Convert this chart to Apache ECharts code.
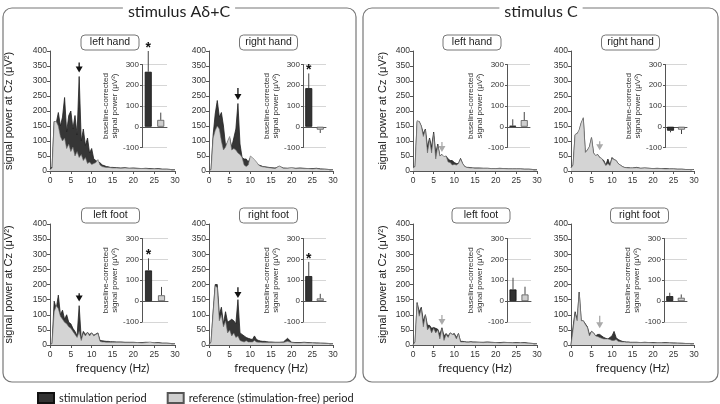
<!DOCTYPE html>
<html><head><meta charset="utf-8">
<script src="https://cdn.jsdelivr.net/npm/echarts@6/dist/echarts.min.js"></script>
<style>html,body{margin:0;padding:0;background:#fff}#c{width:720px;height:404px}</style>
</head><body><div id="c"></div><script>
// ---------- data ----------
const groupTitles = ['stimulus A\u03b4+C', 'stimulus C'];
const panelNames = ['left hand','right hand','left foot','right foot','left hand','right hand','left foot','right foot'];
const seriesNames = ['stimulation period', 'reference (stimulation-free) period'];
const freq = [0,0.5,1,1.5,2,2.5,3,3.5,4,4.5,5,5.5,6,6.5,7,7.5,8,8.5,9,9.5,10,10.5,11,11.5,12,12.5,13,13.5,14,14.5,15,
              16,17,18,19,20,21,22,23,24,25,26,27,28,29,30];
const freqTicks = [0,5,10,15,20,25,30];
const powerTicks = [0,50,100,150,200,250,300,350,400];
const barTicks = [-100,0,100,200,300];

// stimulus Ad+C
const stimAC_LH = [5,15,165,160,195,150,180,245,130,185,200,140,185,120,315,100,140,85,110,60,75,40,35,30,28,20,18,15,14,12,12, 11,10,11,9,10,9,8,9,8,7,8,6,6,5,4];
const refAC_LH  = [5,10,165,165,150,115,100,110,75,90,65,80,50,65,45,55,35,45,25,30,22,25,28,38,20,15,13,12,12,11,10, 10,9,10,9,9,8,8,8,7,7,7,6,6,5,4];
const stimAC_RH = [0,5,120,190,235,180,195,150,85,95,110,80,110,140,225,90,45,40,40,30,45,40,35,25,20,18,15,14,13,12,11, 10,15,10,9,10,9,10,9,8,8,9,7,6,5,4];
const refAC_RH  = [0,5,110,135,150,140,100,70,80,100,115,70,75,70,60,55,45,20,15,20,50,45,38,30,20,16,14,13,12,11,10, 8,17,9,9,11,8,9,8,8,7,8,6,6,5,4];
const stimAC_LF = [0,5,145,120,165,100,115,85,100,75,70,55,45,30,130,20,45,35,42,35,40,32,36,40,15,14,13,12,12,11,11, 10,10,9,9,9,8,8,9,8,7,8,6,6,5,4];
const refAC_LF  = [0,5,110,130,120,95,85,75,70,60,55,45,35,25,45,15,40,30,42,30,40,30,35,38,12,10,10,9,9,9,9, 9,9,8,8,8,8,7,8,10,7,7,6,6,5,4];
const stimAC_RF = [0,10,110,200,200,100,125,70,110,75,80,85,80,70,150,40,35,30,25,22,20,18,30,18,15,13,12,12,11,10,10, 9,9,10,22,9,8,8,9,8,7,7,6,6,5,4];
const refAC_RF  = [0,10,105,195,190,80,100,60,80,40,50,30,40,25,30,15,12,10,14,10,10,10,15,10,9,9,8,8,8,8,8, 8,8,8,12,8,7,7,8,7,7,6,6,5,5,4];
// stimulus C
const stimC_LH = [10,15,165,165,150,125,140,80,110,80,130,60,90,50,55,45,50,40,35,35,28,25,25,42,25,15,12,12,11,10,10, 10,9,9,8,8,9,8,7,7,7,7,6,6,5,4];
const refC_LH  = [10,15,168,165,150,115,138,60,105,60,125,40,85,50,55,48,50,30,28,20,22,20,25,40,25,15,12,11,10,10,9, 9,9,9,8,8,8,8,7,7,7,7,6,6,5,4];
const stimC_RH = [10,20,120,125,135,160,175,60,70,80,110,60,50,55,45,40,35,20,40,20,45,38,35,25,20,15,12,11,11,10,10, 12,9,10,9,8,9,8,8,7,7,6,6,5,5,5];
const refC_RH  = [10,20,122,125,138,162,178,62,70,82,113,60,52,55,45,42,30,18,25,18,42,38,35,25,20,15,12,11,10,10,10, 11,9,10,9,8,8,8,7,7,7,6,6,5,5,5];
const stimC_LF = [0,10,140,110,125,80,100,65,65,55,58,55,52,35,57,30,38,30,40,35,38,25,38,12,12,11,10,10,11,10,10, 9,9,10,9,8,8,9,8,7,8,7,8,6,5,4];
const refC_LF  = [0,10,140,95,120,60,100,50,60,40,55,40,50,20,55,15,35,25,40,35,35,20,38,10,10,10,9,9,10,9,9, 9,8,9,8,8,7,8,8,7,7,7,7,6,5,4];
const stimC_RF = [0,60,110,85,175,80,80,70,60,35,45,40,30,35,35,30,25,22,20,25,30,45,25,18,15,12,11,10,10,9,9, 9,8,9,8,8,7,7,8,7,7,6,6,5,5,4];
const refC_RF  = [0,50,105,80,175,80,80,68,58,30,45,40,30,28,25,22,20,20,20,18,15,15,18,12,11,10,10,9,9,8,8, 8,8,8,8,7,7,7,7,7,6,6,5,5,5,4];

const stimSpectra = [stimAC_LH, stimAC_RH, stimAC_LF, stimAC_RF, stimC_LH, stimC_RH, stimC_LF, stimC_RF];
const refSpectra  = [refAC_LH, refAC_RH, refAC_LF, refAC_RF, refC_LH, refC_RH, refC_LF, refC_RF];

// inset bars: baseline-corrected signal power
const barStim    = [265, 186, 147, 120, 5, -19, 56, 24];
const barStimErr = [100, 71, 58, 68, 31, 8, 56, 16];
const barRef     = [33, -14, 28, 13, 32, -14, 32, 16];
const barRefErr  = [35, 16, 40, 22, 39, 21, 37, 16];
const significant = [1, 1, 1, 1, 0, 0, 0, 0];

// arrows at the stimulation frequency
const arrowHz   = 7;
const arrowFrom = [362, 277, 171, 191, 97, 99, 99, 97];
const arrowTo   = [328, 237, 144, 155, 63, 69, 66, 55];

// ---------- layout ----------
const layout = [
  {g:[50,51,125,120],  i:[142,64.5,25,83], yName:36,  xName:false, lab:110},
  {g:[209,51,124,120], i:[303,64.5,23,83], yName:null,xName:false, lab:268.5},
  {g:[50,224,125,121], i:[142,238.5,26,83.5], yName:36, xName:true, lab:110.5},
  {g:[209,224,124,121],i:[303,238.5,23,83.5], yName:null,xName:true, lab:268.5},
  {g:[413,51,124,120], i:[507,64.5,23,83], yName:25,  xName:false, lab:472},
  {g:[571,51,123,120], i:[665,64.5,22,83], yName:null,xName:false, lab:630.5},
  {g:[413,224,124,121],i:[507,238.5,24,83.5], yName:25, xName:true, lab:481},
  {g:[571,224,123,121],i:[664,238.5,23,83.5], yName:null,xName:true, lab:639.5}
];

const SANS = '"Liberation Sans", Arial, sans-serif';
const CAL = 'Lato, "Open Sans", "DejaVu Sans", sans-serif';
const AX = '#555';

const grid = [], xAxis = [], yAxis = [], barSeries = [], lineSeries = [], extraSeries = [], graphic = [];

layout.forEach((L, p) => {
  grid.push({left:L.g[0], top:L.g[1], width:L.g[2], height:L.g[3], containLabel:false, outerBoundsMode:'none'});
});
layout.forEach((L, p) => {
  grid.push({left:L.i[0], top:L.i[1], width:L.i[2], height:L.i[3], containLabel:false, outerBoundsMode:'none'});
});

layout.forEach((L, p) => {
  xAxis.push({
    gridIndex:p, type:'value', min:freqTicks[0], max:freqTicks[freqTicks.length-1],
    interval:freqTicks[1]-freqTicks[0],
    axisLine:{lineStyle:{color:AX, width:1}}, axisTick:{show:true, length:3, lineStyle:{color:AX}},
    axisLabel:{fontSize:8.5, fontFamily:SANS, color:'#333', margin:5},
    splitLine:{show:false},
    name: L.xName ? 'frequency (Hz)' : '', nameLocation:'middle', nameGap:17,
    nameTextStyle:{fontSize:11.5, fontFamily:CAL, color:'#222'}
  });
  yAxis.push({
    gridIndex:p, type:'value', min:powerTicks[0], max:powerTicks[powerTicks.length-1],
    interval:powerTicks[1]-powerTicks[0],
    axisLine:{show:true, lineStyle:{color:AX, width:1}}, axisTick:{show:true, length:3, lineStyle:{color:AX}},
    axisLabel:{fontSize:8.5, fontFamily:SANS, color:'#333', margin:3},
    splitLine:{show:false},
    name: L.yName != null ? 'signal power at Cz (\u03bcV\u00b2)' : '', nameLocation:'middle',
    nameGap: L.yName || 0, nameRotate:90,
    nameTextStyle:{fontSize:11, fontFamily:SANS, color:'#222'}
  });
});
layout.forEach((L, p) => {
  xAxis.push({
    gridIndex:8+p, type:'category', data:seriesNames,
    axisLine:{show:true, onZero:true, lineStyle:{color:AX, width:1}},
    axisTick:{show:false}, axisLabel:{show:false}, splitLine:{show:false}
  });
  yAxis.push({
    gridIndex:8+p, type:'value', min:barTicks[0], max:barTicks[barTicks.length-1],
    interval:barTicks[1]-barTicks[0],
    axisLine:{show:true, lineStyle:{color:AX, width:1}}, axisTick:{show:true, length:2, lineStyle:{color:AX}},
    axisLabel:{fontSize:8, fontFamily:SANS, color:'#333', margin:3},
    splitLine:{show:true, lineStyle:{color:'#d6d6d6', width:1}},
    name:'baseline-corrected\nsignal power (\u03bcV\u00b2)', nameLocation:'middle', nameGap:21, nameRotate:90,
    nameTextStyle:{fontSize:8, fontFamily:SANS, color:'#333', lineHeight:9}
  });
});

function errRender(params, api) {
  const c = api.value(0), v = api.value(1), e = api.value(2), s = api.value(3);
  const end = v >= 0 ? v + e : v - e;
  const p0 = api.coord([c, v]);
  const p1 = api.coord([c, end]);
  const ch = [{type:'line', shape:{x1:p0[0], y1:p0[1], x2:p1[0], y2:p1[1]}, style:{stroke:'#444', lineWidth:1}}];
  if (s) ch.push({type:'text', x:p1[0], y:p1[1]-3,
    style:{text:'*', fill:'#111', font:'bold 14px ' + SANS, align:'center', verticalAlign:'middle',
           textAlign:'center', textVerticalAlign:'middle'}});
  return {type:'group', children:ch};
}
function arrowRender(color) {
  return function (params, api) {
    const a = api.coord([api.value(0), api.value(1)]);
    const b = api.coord([api.value(0), api.value(2)]);
    return {type:'group', children:[
      {type:'line', shape:{x1:a[0], y1:a[1], x2:b[0], y2:b[1]-4}, style:{stroke:color, lineWidth:1.3}},
      {type:'polygon', shape:{points:[[b[0]-3.5, b[1]-6], [b[0]+3.5, b[1]-6], [b[0], b[1]]]}, style:{fill:color}}
    ]};
  };
}

layout.forEach((L, p) => {
  barSeries.push({
    type:'bar', name:seriesNames[0], xAxisIndex:8+p, yAxisIndex:8+p, barWidth:7, barGap:'-100%',
    data:[barStim[p], '-'], itemStyle:{color:'#333', borderColor:'#111', borderWidth:0.8}, animation:false
  });
  barSeries.push({
    type:'bar', name:seriesNames[1], xAxisIndex:8+p, yAxisIndex:8+p, barWidth:7, barGap:'-100%',
    data:['-', barRef[p]], itemStyle:{color:'#cfcfcf', borderColor:'#555', borderWidth:0.8}, animation:false
  });
  extraSeries.push({
    type:'custom', xAxisIndex:8+p, yAxisIndex:8+p, renderItem:errRender, z:5, silent:true,
    encode:{x:0, y:1},
    data:[[0, barStim[p], barStimErr[p], significant[p]], [1, barRef[p], barRefErr[p], 0]], animation:false
  });
  lineSeries.push({
    type:'line', name:seriesNames[0], xAxisIndex:p, yAxisIndex:p, symbol:'none', smooth:false,
    data:freq.map((f, k) => [f, stimSpectra[p][k]]),
    lineStyle:{color:'#222', width:0.8}, areaStyle:{color:'#363636', opacity:1},
    itemStyle:{color:'#333'}, z:2, animation:false
  });
  lineSeries.push({
    type:'line', name:seriesNames[1], xAxisIndex:p, yAxisIndex:p, symbol:'none', smooth:false,
    data:freq.map((f, k) => [f, refSpectra[p][k]]),
    lineStyle:{color:'#6a6a6a', width:0.6}, areaStyle:{color:'#d4d4d4', opacity:1},
    itemStyle:{color:'#cfcfcf'}, z:3, animation:false
  });
  extraSeries.push({
    type:'custom', xAxisIndex:p, yAxisIndex:p, renderItem:arrowRender(p < 4 ? '#111' : '#aaaaaa'), z:6, silent:true,
    encode:{x:0, y:[1,2]}, data:[[arrowHz, arrowFrom[p], arrowTo[p]]], animation:false
  });

  // panel label box
  const top = L.g[1] - 16;
  graphic.push({type:'rect', shape:{x:L.lab-29, y:top, width:58, height:15, r:4},
    style:{fill:'#fff', stroke:'#777', lineWidth:1}, z:10});
  graphic.push({type:'text', x:L.lab, y:top+7.5,
    style:{text:panelNames[p], font:'10.5px ' + SANS, fill:'#222', align:'center', verticalAlign:'middle',
           textAlign:'center', textVerticalAlign:'middle'}, z:11});
});

// group frames and titles
[[3, 356, 179], [363, 718, 541]].forEach((b, gi) => {
  graphic.push({type:'rect', shape:{x:b[0], y:8, width:b[1]-b[0], height:374, r:9},
    style:{fill:'none', stroke:'#777', lineWidth:1.2}, z:1});
  graphic.push({type:'text', x:b[2], y:12,
    style:{text:groupTitles[gi], font:'16px ' + CAL, fill:'#222', align:'center', verticalAlign:'middle',
           textAlign:'center', textVerticalAlign:'middle', backgroundColor:'#fff', padding:[0,5]}, z:12});
});

const chart = echarts.init(document.getElementById('c'), null, {renderer:'canvas'});
chart.setOption({
  animation:false,
  backgroundColor:'#fff',
  grid, xAxis, yAxis,
  legend:{
    left:37, top:392, padding:0, itemWidth:16, itemHeight:10, itemGap:20, icon:'rect',
    textStyle:{fontFamily:CAL, fontSize:11, color:'#222'},
    data:seriesNames
  },
  series:[...barSeries, ...lineSeries, ...extraSeries],
  graphic
});
</script></body></html>
